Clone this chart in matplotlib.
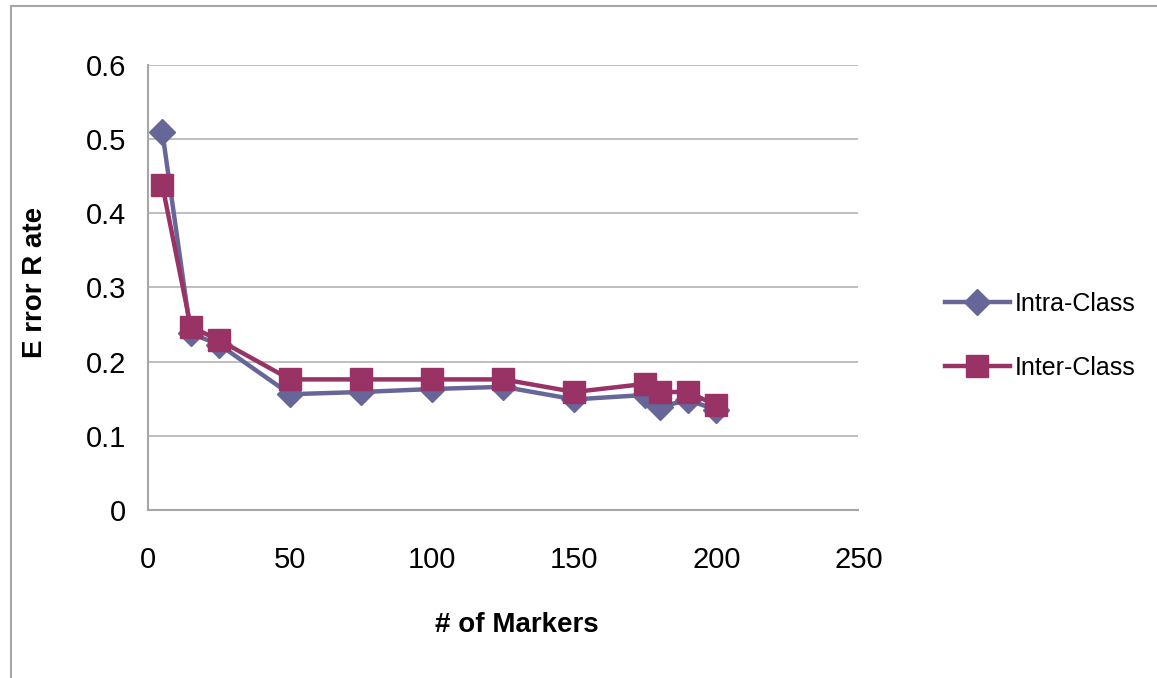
#Error rate vs number of markers, intra-class and inter-class
import matplotlib.pyplot as plt
from matplotlib.lines import Line2D

plt.rcParams['font.family'] = ['Liberation Sans', 'DejaVu Sans']

markers = [5, 15, 25, 50, 75, 100, 125, 150, 175, 180, 190, 200] #number of markers
intra_class = [0.51, 0.238, 0.223, 0.156, 0.159, 0.163, 0.166, 0.149, 0.155, 0.139, 0.148, 0.135]
inter_class = [0.438, 0.247, 0.229, 0.176, 0.176, 0.176, 0.176, 0.159, 0.170, 0.159, 0.159, 0.141]

fig = plt.figure(figsize=(11.57, 6.78), dpi=100)
ax = fig.add_axes([0.128, 0.248, 0.614, 0.656])

ax.plot(markers, intra_class, color='#666699', linewidth=3.2, marker='D', markersize=13,
        label='Intra-Class', zorder=3)
ax.plot(markers, inter_class, color='#993366', linewidth=3.2, marker='s', markersize=16,
        label='Inter-Class', zorder=4)

ax.set_xlim(0, 250)
ax.set_ylim(0, 0.6)
ax.set_xticks([0, 50, 100, 150, 200, 250])
ax.set_yticks([0, 0.1, 0.2, 0.3, 0.4, 0.5, 0.6])
ax.set_yticklabels(['0', '0.1', '0.2', '0.3', '0.4', '0.5', '0.6'])
ax.tick_params(length=0, labelsize=21, pad=16)
ax.tick_params(axis='x', pad=26)
ax.grid(axis='y', color='#b3b3b3', linewidth=1.2)
ax.set_axisbelow(True)
for side in ['top', 'right']:
    ax.spines[side].set_visible(False)
for side in ['left', 'bottom']:
    ax.spines[side].set_color('#a6a6a6')
    ax.spines[side].set_linewidth(1.5)

fig.text(0.447, 0.078, '# of Markers', fontsize=20, fontweight='bold', ha='center', va='center')
fig.text(0.030, 0.583, 'E rror R ate', fontsize=20, fontweight='bold', rotation=90,
         ha='center', va='center')

fig.legend(loc='center left', bbox_to_anchor=(0.797, 0.505), frameon=False, fontsize=18,
           handlelength=2.6, handletextpad=0.2, labelspacing=1.6)

# outer chart border
fig.add_artist(Line2D([0.0095, 0.0095], [0, 0.991], transform=fig.transFigure, color='#a6a6a6', linewidth=1.5))
fig.add_artist(Line2D([0.0095, 1.0], [0.991, 0.991], transform=fig.transFigure, color='#a6a6a6', linewidth=1.5))

fig.savefig('out.png', dpi=100)
